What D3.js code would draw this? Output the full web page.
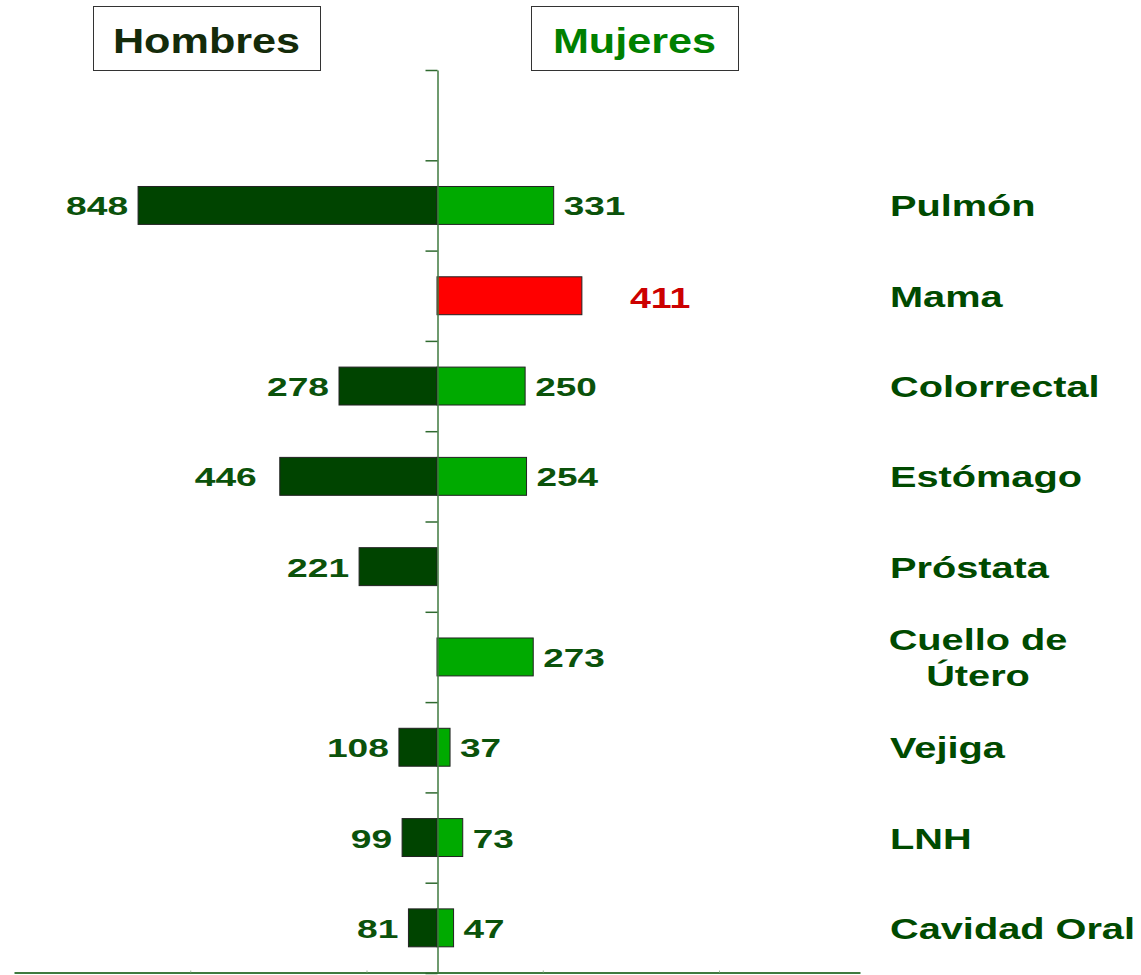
<!DOCTYPE html>
<html>
<head>
<meta charset="utf-8">
<script src="https://cdn.jsdelivr.net/npm/d3@7"></script>
<style>
  body { margin: 0; background: #fff; }
  svg text { font-family: "Liberation Sans", Arial, sans-serif; font-weight: bold; }
</style>
</head>
<body>
<div id="chart"></div>
<script>
// categories top to bottom, first slot is left empty in the original
const categories = ["", "Pulmón", "Mama", "Colorrectal", "Estómago", "Próstata", "Cuello de\nÚtero", "Vejiga", "LNH", "Cavidad Oral"]
const hombres = [null, 848, null, 278, 446, 221, null, 108, 99, 81]
const mujeres = [null, 331, 411, 250, 254, null, 273, 37, 73, 47]
const highlight = "Mama"
const titles = ["Hombres", "Mujeres"]
const bottomTicks = [-700, -200, 300, 800]

// a couple of labels sit further out than the rest
const leftNudge = {"Estómago": 13}
const rightNudge = {"Mama": 38}

const width = 1141, height = 975
const colorMen = "#004400", colorWomen = "#00aa00", colorHighlight = "#ff0000"
const axisColor = "#3f7a3f"

const svg = d3.select("#chart").append("svg")
    .attr("width", width)
    .attr("height", height)

const x = d3.scaleLinear()
    .domain([-1200, 1200])
    .range([14, 860])

const y = d3.scaleBand()
    .domain(categories)
    .range([70, 973])
    .paddingInner(0.58)
    .paddingOuter(0.29)

const yEdge = d3.scaleLinear()
    .domain([0, categories.length])
    .range([70, 973])

// stretched text, the original was widened horizontally
function stretchedText(parent, tx, ty, sx, str) {
    const g = parent.append("g").attr("transform", "translate(" + tx + "," + ty + ") scale(" + sx + ",1)")
    return g.append("text").text(str)
}

// title boxes
const boxes = [{x: 93, w: 227, color: "#142b0a"}, {x: 531, w: 207, color: "#008000"}]
boxes.forEach((b, i) => {
    svg.append("rect")
        .attr("x", b.x + 0.5).attr("y", 6.5)
        .attr("width", b.w).attr("height", 64)
        .attr("fill", "#fff").attr("stroke", "#333").attr("stroke-width", 1)
    stretchedText(svg, b.x + b.w / 2, 53, 1.2, titles[i])
        .attr("text-anchor", "middle")
        .attr("font-size", 36)
        .attr("fill", b.color)
})

const rows = categories.map((c, i) => ({cat: c, h: hombres[i], m: mujeres[i]}))

// men bars
svg.append("g").selectAll("rect")
    .data(rows.filter(d => d.h != null))
    .join("rect")
    .attr("x", d => x(-d.h))
    .attr("y", d => y(d.cat))
    .attr("width", d => x(0) - x(-d.h))
    .attr("height", y.bandwidth())
    .attr("fill", colorMen)
    .attr("stroke", "#222")
    .attr("stroke-width", 1)

// women bars
svg.append("g").selectAll("rect")
    .data(rows.filter(d => d.m != null))
    .join("rect")
    .attr("x", x(0))
    .attr("y", d => y(d.cat))
    .attr("width", d => x(d.m) - x(0))
    .attr("height", y.bandwidth())
    .attr("fill", d => d.cat == highlight ? colorHighlight : colorWomen)
    .attr("stroke", "#222")
    .attr("stroke-width", 1)

// value labels
const labels = svg.append("g")
rows.forEach(d => {
    const cy = y(d.cat) + y.bandwidth() / 2
    if (d.h != null) {
        stretchedText(labels, x(-d.h) - 10 - (leftNudge[d.cat] || 0), cy + 10, 1.43, d.h)
            .attr("text-anchor", "end")
            .attr("font-size", 26)
            .attr("fill", "#0b520b")
    }
    if (d.m != null) {
        const hl = d.cat == highlight
        stretchedText(labels, x(d.m) + 10 + (rightNudge[d.cat] || 0), cy + (hl ? 12 : 10), hl ? 1.25 : 1.42, d.m)
            .attr("text-anchor", "start")
            .attr("font-size", hl ? 30 : 26)
            .attr("fill", hl ? "#cc0000" : "#0b520b")
    }
})

// category names on the right
const names = svg.append("g")
categories.forEach(c => {
    if (!c) return
    const lines = c.split("\n")
    const cy = y(c) + y.bandwidth() / 2
    lines.forEach((line, j) => {
        const ly = cy + 11 + (j - (lines.length - 1) / 2) * 36
        if (lines.length > 1) {
            stretchedText(names, 978, ly, 1.37, line)
                .attr("text-anchor", "middle")
                .attr("font-size", 29)
                .attr("fill", "#004a00")
        } else {
            stretchedText(names, 890, ly, 1.37, line)
                .attr("font-size", 29)
                .attr("fill", "#004a00")
        }
    })
})

// bottom axis
const xAxis = svg.append("g")
    .attr("transform", "translate(0,972.5)")
    .call(d3.axisBottom(x).tickValues(bottomTicks).tickSize(-2).tickSizeOuter(0).tickFormat(""))
xAxis.select(".domain").attr("stroke", axisColor).attr("stroke-width", 2)
xAxis.selectAll(".tick line").attr("stroke", "#9bbb9b")

// centre axis with ticks between categories
const yAxis = svg.append("g")
    .attr("transform", "translate(" + (x(0) + 0.5) + ",0)")
    .call(d3.axisLeft(yEdge).ticks(categories.length).tickSize(12).tickSizeOuter(0).tickFormat(""))
yAxis.select(".domain").attr("stroke", axisColor).attr("stroke-width", 1.5)
yAxis.selectAll(".tick line").attr("stroke", "#2f6a2f").attr("stroke-width", 1.5)
</script>
</body>
</html>
